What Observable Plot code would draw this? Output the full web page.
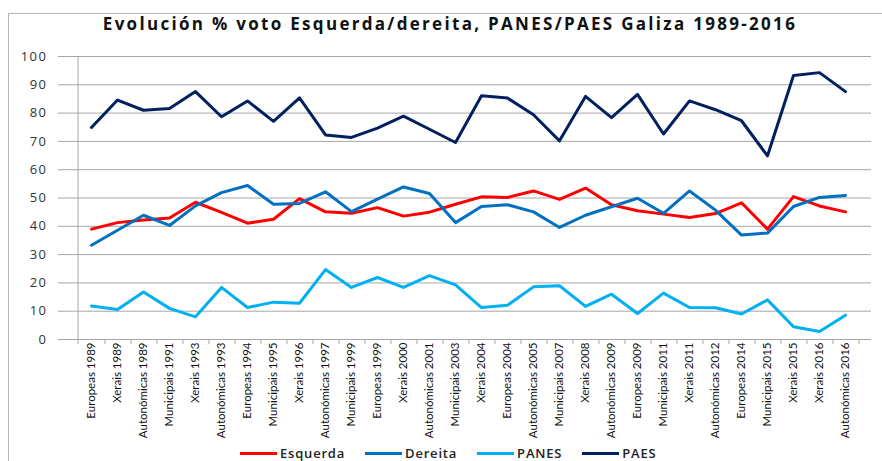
<!DOCTYPE html>
<html><head><meta charset="utf-8">
<script src="https://cdn.jsdelivr.net/npm/d3@7"></script>
<script src="https://cdn.jsdelivr.net/npm/@observablehq/plot@0.6"></script>
<style>
body{margin:0;background:#fff;}
#wrap{position:relative;width:882px;height:461px;overflow:hidden;background:#fff;}
#frame{position:absolute;left:8px;top:13px;width:900px;height:500px;border:1.5px solid #b4b4b4;box-sizing:border-box;}
#title{position:absolute;top:12px;left:0;width:900px;line-height:23px;text-align:center;font:bold 17px "Open Sans",sans-serif;letter-spacing:2.3px;color:#111;}
#chart{position:absolute;left:0;top:0;}
#legend{position:absolute;top:446px;left:240px;display:flex;align-items:center;font:600 13px "Open Sans",sans-serif;letter-spacing:0.8px;color:#222;line-height:14px;height:14px;}
.item{display:flex;align-items:center;margin-right:20px}
.sw{width:37px;height:3px;margin-right:3px}
</style></head>
<body>
<div id="wrap">
  <div id="frame"></div>
  <div id="chart"></div>
  <div id="title"></div>
  <div id="legend"></div>
</div>
<script>
const titleText = "Evolución % voto Esquerda/dereita, PANES/PAES Galiza 1989-2016";
const categories = ["Europeas 1989","Xerais 1989","Autonómicas 1989","Municipais 1991","Xerais 1993","Autonómicas 1993","Europeas 1994","Municipais 1995","Xerais 1996","Autonómicas 1997","Municipais 1999","Europeas 1999","Xerais 2000","Autonómicas 2001","Municipais 2003","Xerais 2004","Europeas 2004","Autonómicas 2005","Municipais 2007","Xerais 2008","Autonómicas 2009","Europeas 2009","Municipais 2011","Xerais 2011","Autonómicas 2012","Europeas 2014","Municipais 2015","Xerais 2015","Xerais 2016","Autonómicas 2016"];
const esquerda = [39.0,41.3,42.2,42.9,48.5,44.9,41.1,42.5,49.8,45.1,44.6,46.6,43.6,45.0,47.8,50.4,50.2,52.5,49.5,53.5,47.6,45.5,44.3,43.1,44.5,48.3,39.0,50.5,47.2,45.1];
const dereita = [33.3,38.6,43.9,40.3,47.2,51.9,54.4,47.8,48.1,52.2,45.2,49.6,53.9,51.6,41.3,47.0,47.6,45.1,39.6,43.9,46.9,49.9,44.6,52.5,45.7,36.9,37.6,47.0,50.2,50.9];
const panes = [11.8,10.6,16.8,11.0,8.0,18.4,11.3,13.2,12.8,24.7,18.4,21.9,18.4,22.6,19.3,11.3,12.1,18.6,19.0,11.7,16.0,9.2,16.4,11.3,11.2,9.0,14.0,4.5,2.8,8.6];
const paes = [74.9,84.6,81.0,81.6,87.6,78.7,84.3,77.1,85.4,72.3,71.4,74.7,78.9,74.3,69.6,86.1,85.3,79.4,70.2,85.9,78.4,86.6,72.6,84.3,81.2,77.3,64.9,93.3,94.3,87.6];
const seriesNames = ["Esquerda","Dereita","PANES","PAES"];
const seriesColors = ["#FF0000","#0070C0","#00B0F0","#002060"];
const yTicks = [0,10,20,30,40,50,60,70,80,90,100];

const rows = [];
[esquerda, dereita, panes, paes].forEach((vals, s) =>
  vals.forEach((v, i) => rows.push({cat: categories[i], value: v, serie: seriesNames[s]})));

const W = 882, H = 461, mL = 64, mR = 11, mT = 56, mB = 122;
const halfStep = (W - mL - mR) / categories.length / 2;
const gridColor = "#a6a6a6";

const chart = Plot.plot({
  width: W, height: H,
  marginTop: mT, marginBottom: mB, marginLeft: mL, marginRight: mR,
  style: {fontFamily: "'Open Sans', sans-serif", fontSize: "13px", color: "#333", background: "transparent", overflow: "visible"},
  x: {type: "point", domain: categories, padding: 0.5},
  y: {domain: [0, 100]},
  color: {domain: seriesNames, range: seriesColors},
  marks: [
    Plot.gridY(yTicks, {stroke: gridColor, strokeOpacity: 1, strokeWidth: 1}),
    Plot.ruleY([0], {stroke: gridColor, strokeWidth: 1}),
    Plot.ruleX([categories[0]], {dx: -halfStep, y1: 0, y2: 100, stroke: gridColor}),
    Plot.ruleX(categories, {x: d => d, dx: halfStep, y1: 0, y2: 0, insetBottom: -5, stroke: gridColor}),
    Plot.ruleX([categories[0]], {dx: -halfStep, y1: 0, y2: 0, insetBottom: -5, stroke: gridColor}),
    Plot.axisY(yTicks, {tickSize: 6, tickPadding: 11, stroke: gridColor, label: null, fontSize: 13}),
    Plot.axisX({tickRotate: -90, tickSize: 0, tickPadding: 3, label: null, fill: "#111"}),
    Plot.line(rows, {x: "cat", y: "value", z: "serie", stroke: "serie", strokeWidth: 3, strokeLinejoin: "round"})
  ]
});
chart.querySelectorAll('[aria-label="y-axis tick label"] text').forEach(t => t.style.letterSpacing = "1.5px");
chart.querySelectorAll('[aria-label="x-axis tick label"]').forEach(g => {
  g.style.fontFamily = "Lato, sans-serif";
  g.style.fontSize = "11.5px";
});
document.getElementById("chart").appendChild(chart);
document.getElementById("title").textContent = titleText;
const legend = document.getElementById("legend");
seriesNames.forEach((n, i) => {
  const it = document.createElement("div"); it.className = "item";
  const sw = document.createElement("div"); sw.className = "sw"; sw.style.background = seriesColors[i];
  const tx = document.createElement("span"); tx.textContent = n;
  it.appendChild(sw); it.appendChild(tx); legend.appendChild(it);
});
</script>
</body></html>
